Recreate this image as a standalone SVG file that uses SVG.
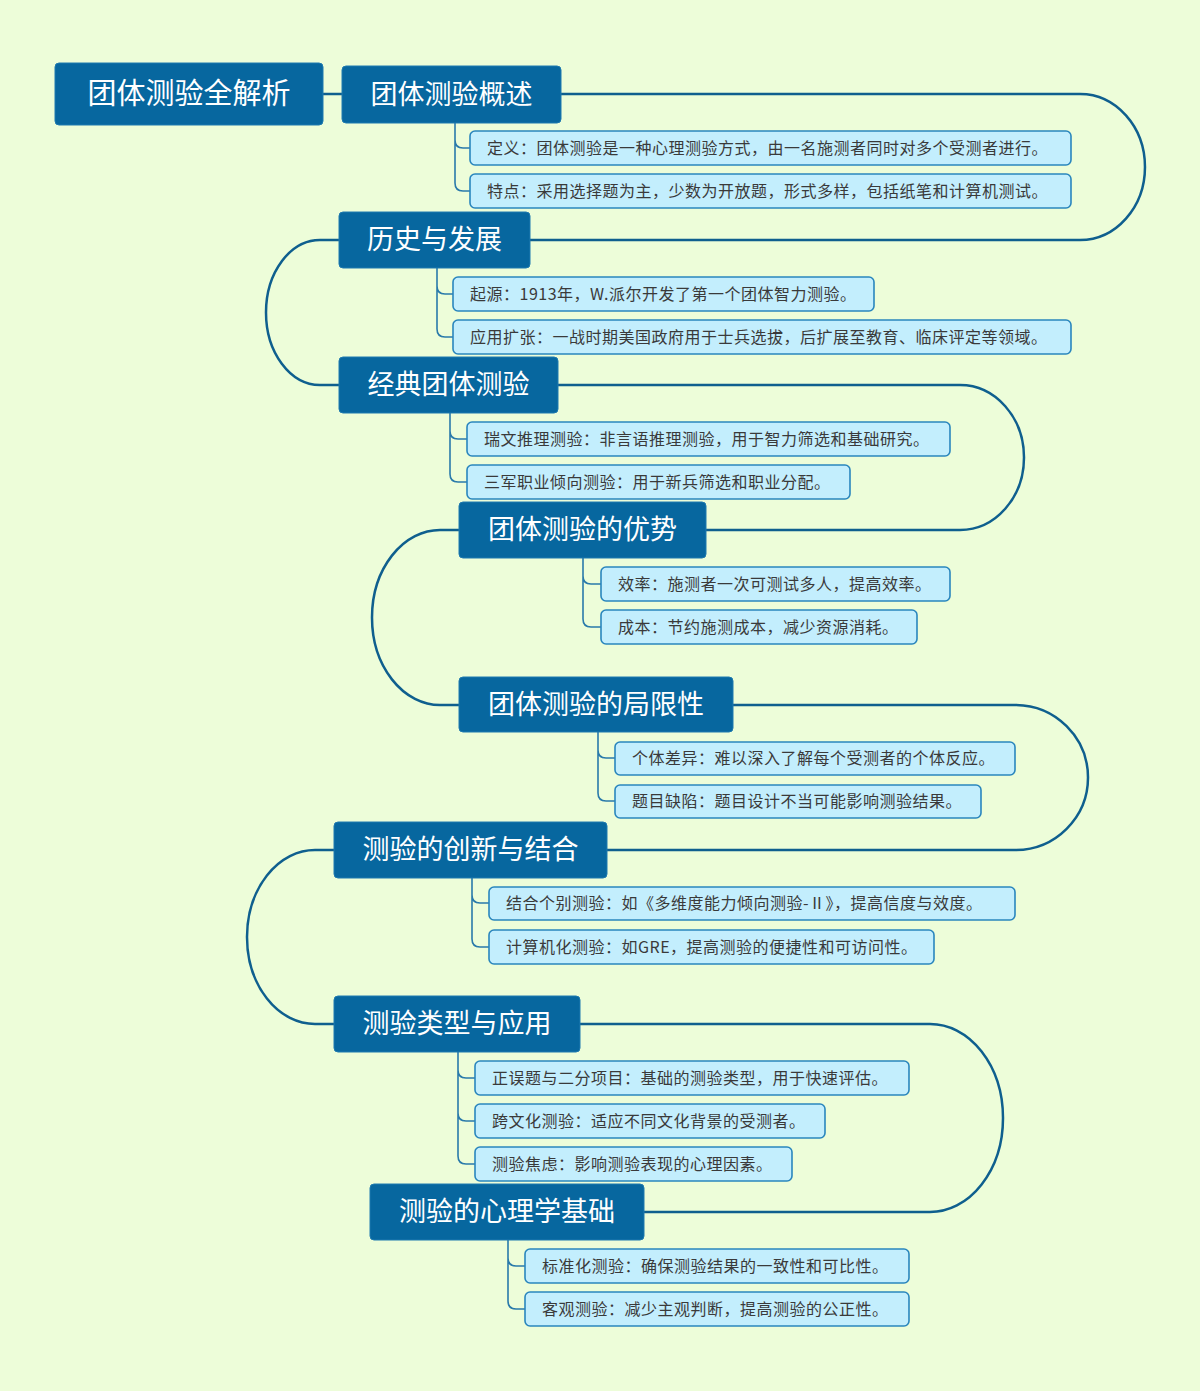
<svg xmlns="http://www.w3.org/2000/svg" width="1200" height="1391" viewBox="0 0 1200 1391">
<style>
.bg{fill:#edfdd9}
.main rect{fill:#07679f;stroke:#1f7ab0;stroke-width:1}
.main text{fill:#ffffff;font-family:"Noto Sans CJK SC","Noto Sans",sans-serif;font-size:27px;text-anchor:middle}
.root text{font-size:29px}
.leaf rect{fill:#c3eefd;stroke:#2a86bd;stroke-width:1.6}
.leaf text{fill:#3a3a3a;font-family:"Noto Sans CJK SC","Noto Sans",sans-serif;font-size:16px;letter-spacing:0.5px}
.conn path{fill:none;stroke:#0f5f8e;stroke-width:2.5}
.br path{fill:none;stroke:#2a7aaa;stroke-width:1.6}
</style>
<rect class="bg" x="0" y="0" width="1200" height="1391"/>
<g class="conn">
<path d="M323,94 H342"/>
<path d="M561,94 H1080 A65,73 0 0 1 1080,240 H530"/>
<path d="M339,240 H320 A54,72.5 0 0 0 320,385 H339"/>
<path d="M558,385 H960 A64,72.5 0 0 1 960,530 H706"/>
<path d="M459,530 H440 A68,87.5 0 0 0 440,705 H459"/>
<path d="M733,705 H1015 A73,72.5 0 0 1 1015,850 H607"/>
<path d="M334,850 H315 A68,87 0 0 0 315,1024 H334"/>
<path d="M580,1024 H930 A73,94 0 0 1 930,1212 H644"/>
</g>
<g class="br">
<path d="M455,123 V140 Q455,148 463,148 H470 M455,140 V183 Q455,191 463,191 H470"/>
<path d="M437,268 V286 Q437,294 445,294 H453 M437,286 V329 Q437,337 445,337 H453"/>
<path d="M450,413 V431 Q450,439 458,439 H467 M450,431 V474 Q450,482 458,482 H467"/>
<path d="M583,558 V576 Q583,584 591,584 H601 M583,576 V619 Q583,627 591,627 H601"/>
<path d="M598,732 V750 Q598,758 606,758 H615 M598,750 V793 Q598,801 606,801 H615"/>
<path d="M472,878 V895 Q472,903 480,903 H489 M472,895 V939 Q472,947 480,947 H489"/>
<path d="M458,1052 V1070 Q458,1078 466,1078 H475 M458,1070 V1113 Q458,1121 466,1121 H475 M458,1113 V1156 Q458,1164 466,1164 H475"/>
<path d="M508,1240 V1258 Q508,1266 516,1266 H525 M508,1258 V1301 Q508,1309 516,1309 H525"/>
</g>
<g id="root" class="main root"><rect x="55" y="63" width="268" height="62" rx="4"/><text x="189" y="104">团体测验全解析</text></g>
<g id="n1" class="main"><rect x="342" y="66" width="219" height="57" rx="4"/><text x="451.5" y="104">团体测验概述</text></g>
<g id="n1a" class="leaf"><rect x="470" y="131" width="601" height="34" rx="5"/><text x="487" y="154">定义：团体测验是一种心理测验方式，由一名施测者同时对多个受测者进行。</text></g>
<g id="n1b" class="leaf"><rect x="470" y="174" width="601" height="34" rx="5"/><text x="487" y="197">特点：采用选择题为主，少数为开放题，形式多样，包括纸笔和计算机测试。</text></g>
<g id="n2" class="main"><rect x="339" y="212" width="191" height="56" rx="4"/><text x="434.5" y="249">历史与发展</text></g>
<g id="n2a" class="leaf"><rect x="453" y="277" width="421" height="34" rx="5"/><text x="470" y="300">起源：1913年，W.派尔开发了第一个团体智力测验。</text></g>
<g id="n2b" class="leaf"><rect x="453" y="320" width="618" height="34" rx="5"/><text x="470" y="343">应用扩张：一战时期美国政府用于士兵选拔，后扩展至教育、临床评定等领域。</text></g>
<g id="n3" class="main"><rect x="339" y="357" width="219" height="56" rx="4"/><text x="448.5" y="394">经典团体测验</text></g>
<g id="n3a" class="leaf"><rect x="467" y="422" width="483" height="34" rx="5"/><text x="484" y="445">瑞文推理测验：非言语推理测验，用于智力筛选和基础研究。</text></g>
<g id="n3b" class="leaf"><rect x="467" y="465" width="383" height="34" rx="5"/><text x="484" y="488">三军职业倾向测验：用于新兵筛选和职业分配。</text></g>
<g id="n4" class="main"><rect x="459" y="502" width="247" height="56" rx="4"/><text x="582.5" y="539">团体测验的优势</text></g>
<g id="n4a" class="leaf"><rect x="601" y="567" width="349" height="34" rx="5"/><text x="618" y="590">效率：施测者一次可测试多人，提高效率。</text></g>
<g id="n4b" class="leaf"><rect x="601" y="610" width="316" height="34" rx="5"/><text x="618" y="633">成本：节约施测成本，减少资源消耗。</text></g>
<g id="n5" class="main"><rect x="459" y="677" width="274" height="55" rx="4"/><text x="596" y="714">团体测验的局限性</text></g>
<g id="n5a" class="leaf"><rect x="615" y="742" width="400" height="33" rx="5"/><text x="632" y="764">个体差异：难以深入了解每个受测者的个体反应。</text></g>
<g id="n5b" class="leaf"><rect x="615" y="785" width="366" height="33" rx="5"/><text x="632" y="807">题目缺陷：题目设计不当可能影响测验结果。</text></g>
<g id="n6" class="main"><rect x="334" y="822" width="273" height="56" rx="4"/><text x="470.5" y="859">测验的创新与结合</text></g>
<g id="n6a" class="leaf"><rect x="489" y="887" width="526" height="33" rx="5"/><text x="506" y="909">结合个别测验：如《多维度能力倾向测验-Ⅱ》，提高信度与效度。</text></g>
<g id="n6b" class="leaf"><rect x="489" y="930" width="445" height="34" rx="5"/><text x="506" y="953">计算机化测验：如GRE，提高测验的便捷性和可访问性。</text></g>
<g id="n7" class="main"><rect x="334" y="996" width="246" height="56" rx="4"/><text x="457" y="1033">测验类型与应用</text></g>
<g id="n7a" class="leaf"><rect x="475" y="1061" width="434" height="34" rx="5"/><text x="492" y="1084">正误题与二分项目：基础的测验类型，用于快速评估。</text></g>
<g id="n7b" class="leaf"><rect x="475" y="1104" width="350" height="34" rx="5"/><text x="492" y="1127">跨文化测验：适应不同文化背景的受测者。</text></g>
<g id="n7c" class="leaf"><rect x="475" y="1147" width="317" height="34" rx="5"/><text x="492" y="1170">测验焦虑：影响测验表现的心理因素。</text></g>
<g id="n8" class="main"><rect x="370" y="1184" width="274" height="56" rx="4"/><text x="507" y="1221">测验的心理学基础</text></g>
<g id="n8a" class="leaf"><rect x="525" y="1249" width="384" height="34" rx="5"/><text x="542" y="1272">标准化测验：确保测验结果的一致性和可比性。</text></g>
<g id="n8b" class="leaf"><rect x="525" y="1292" width="384" height="34" rx="5"/><text x="542" y="1315">客观测验：减少主观判断，提高测验的公正性。</text></g>
</svg>
